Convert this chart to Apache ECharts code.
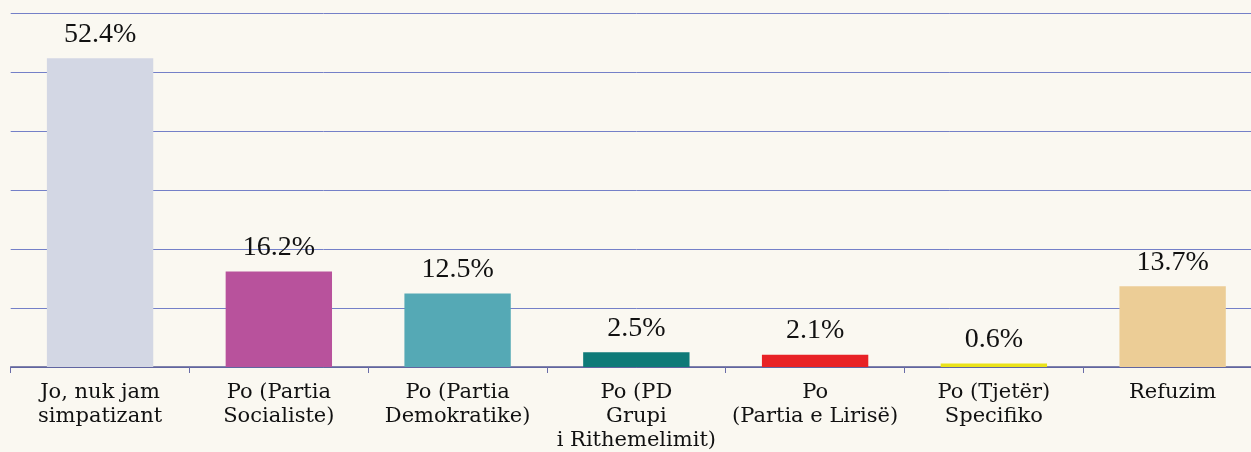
<!DOCTYPE html>
<html>
<head>
<meta charset="utf-8">
<script src="https://cdn.jsdelivr.net/npm/echarts@6/dist/echarts.min.js"></script>
<style>
html,body{margin:0;padding:0;background:#faf8f1;overflow:hidden;}
#c{width:1262px;height:452px;}
</style>
</head>
<body>
<div id="c"></div>
<script>
const categories = [
  "Jo, nuk jam\nsimpatizant",
  "Po (Partia\nSocialiste)",
  "Po (Partia\nDemokratike)",
  "Po (PD\nGrupi\ni Rithemelimit)",
  "Po\n(Partia e Lirisë)",
  "Po (Tjetër)\nSpecifiko",
  "Refuzim"
];
const values = [52.4, 16.2, 12.5, 2.5, 2.1, 0.6, 13.7];
const barColors = ["#d3d7e4", "#b8529c", "#55a9b5", "#0e7a78", "#e82226", "#eae21a", "#eccd96"];

const chart = echarts.init(document.getElementById('c'), null, {renderer: 'canvas'});
chart.setOption({
  backgroundColor: '#faf8f1',
  animation: false,
  grid: {left: 10.7, top: 13.6, right: 0, height: 353.4, containLabel: false, outerBoundsMode: 'none'},
  xAxis: {
    type: 'category',
    data: categories,
    axisLine: {show: true, lineStyle: {color: '#5a5c94', width: 1.5}},
    axisTick: {show: true, length: 6, lineStyle: {color: '#6a6da8'}},
    axisLabel: {
      color: '#111', fontFamily: 'DejaVu Serif', fontSize: 21, lineHeight: 24,
      margin: 14, interval: 0
    }
  },
  yAxis: {
    type: 'value', min: 0, max: 60, interval: 10,
    axisLabel: {show: false}, axisLine: {show: false}, axisTick: {show: false},
    splitLine: {show: true, lineStyle: {color: '#7480c8', width: 1}}
  },
  series: [{
    type: 'bar',
    barWidth: '59.5%',
    data: values.map((v, i) => ({value: v, itemStyle: {color: barColors[i]}})),
    label: {
      show: true, position: 'top', distance: 10,
      formatter: p => p.value + '%',
      color: '#111', fontFamily: 'Liberation Serif', fontSize: 28
    }
  }]
});
</script>
</body>
</html>
